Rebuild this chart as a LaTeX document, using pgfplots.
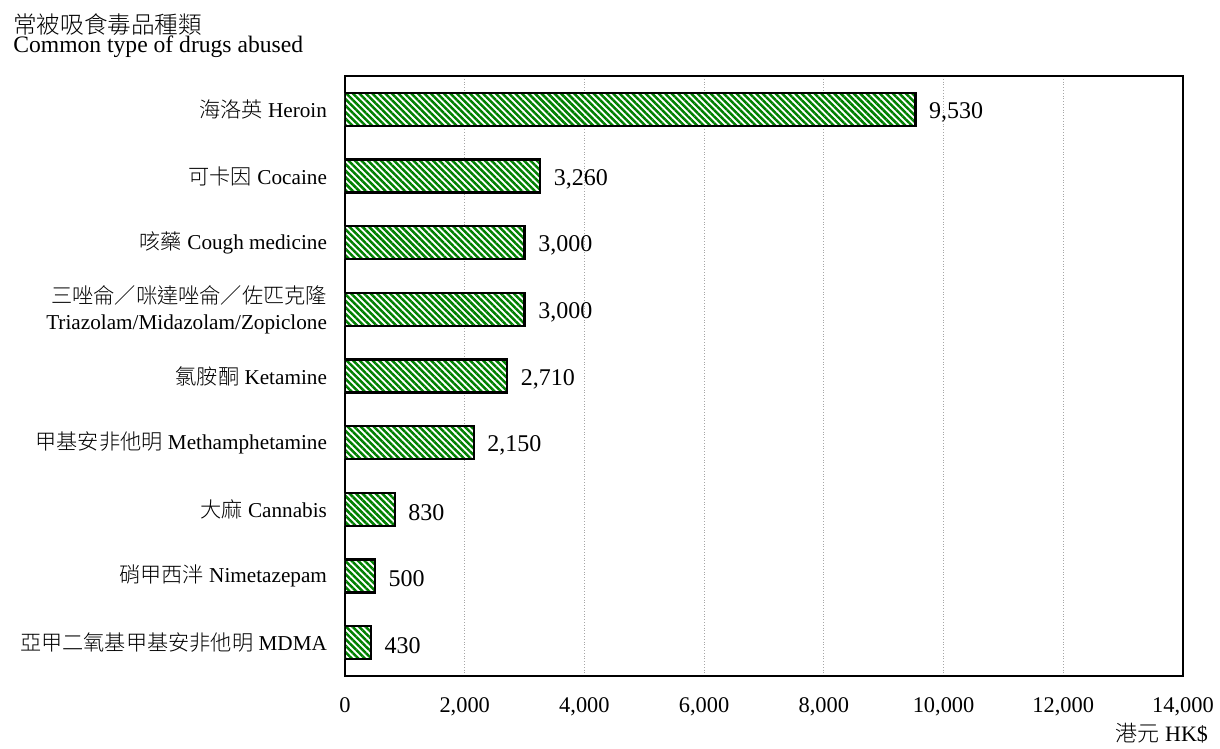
\documentclass[border=0pt]{standalone}
\usepackage{fontspec}
\setmainfont{Liberation Serif}
\newfontfamily\cjk{Noto Sans CJK TC Light}
\usepackage{pgfplots}
\pgfplotsset{compat=1.18}
\usetikzlibrary{patterns.meta}
\definecolor{hkgreen}{RGB}{0,128,0}

\begin{document}
\begin{tikzpicture}[font=\fontsize{11.8}{13.8}\selectfont]
  \path[use as bounding box] (-172.5pt,-36.5pt) rectangle (437.5pt,338pt);
  \begin{axis}[
      scale only axis,
      width=419pt, height=300pt,
      xbar, bar width=16.5pt,
      y dir=reverse,
      xmin=0, xmax=14000,
      ymin=-0.5, ymax=8.5,
      xtick={0,2000,...,14000},
      ytick={0,...,8},
      yticklabels={
        {\cjk 海洛英} Heroin,
        {\cjk 可卡因} Cocaine,
        {\cjk 咳藥} Cough medicine,
        {{\cjk 三唑侖／咪達唑侖／佐匹克隆}\\Triazolam/Midazolam/Zopiclone},
        {\cjk 氯胺酮} Ketamine,
        {\cjk 甲基安非他明} Methamphetamine,
        {\cjk 大麻} Cannabis,
        {\cjk 硝甲西泮} Nimetazepam,
        {\cjk 亞甲二氧基甲基安非他明} MDMA},
      yticklabel style={align=right, xshift=-5.5pt,
        font=\fontsize{10.6}{13}\selectfont},
      xticklabel style={yshift=-7.5pt, font=\fontsize{11.2}{13.5}\selectfont},
      major tick length=0pt,
      scaled x ticks=false,
      /pgf/number format/.cd, fixed, 1000 sep={,}, assume math mode=true,
      /pgfplots/.cd,
      axis line style={line width=1.1pt},
      xmajorgrids,
      major grid style={gray!70, densely dotted, line width=0.4pt},
      xlabel={{\cjk 港元} HK\$},
      xlabel style={at={(rel axis cs:1,0)}, anchor=east, xshift=16pt, yshift=-28.5pt,
        font=\fontsize{11}{13}\selectfont},
      nodes near coords,
      nodes near coords style={anchor=west, xshift=3pt, yshift=-1.5pt,
        font=\fontsize{12}{14}\selectfont},
    ]
    \addplot[draw=black, line width=1.1pt,
      preaction={fill=white},
      pattern={Lines[angle=-45, distance=2.3pt, line width=1.25pt]},
      pattern color=hkgreen]
      coordinates {(9530,0) (3260,1) (3000,2) (3000,3) (2710,4)
                   (2150,5) (830,6) (500,7) (430,8)};
  \end{axis}
  \node[anchor=base west, inner sep=0pt] at (-166pt,321pt) {\cjk 常被吸食毒品種類};
  \node[anchor=base west, inner sep=0pt] at (-166pt,311.5pt) {Common type of drugs abused};
\end{tikzpicture}
\end{document}
